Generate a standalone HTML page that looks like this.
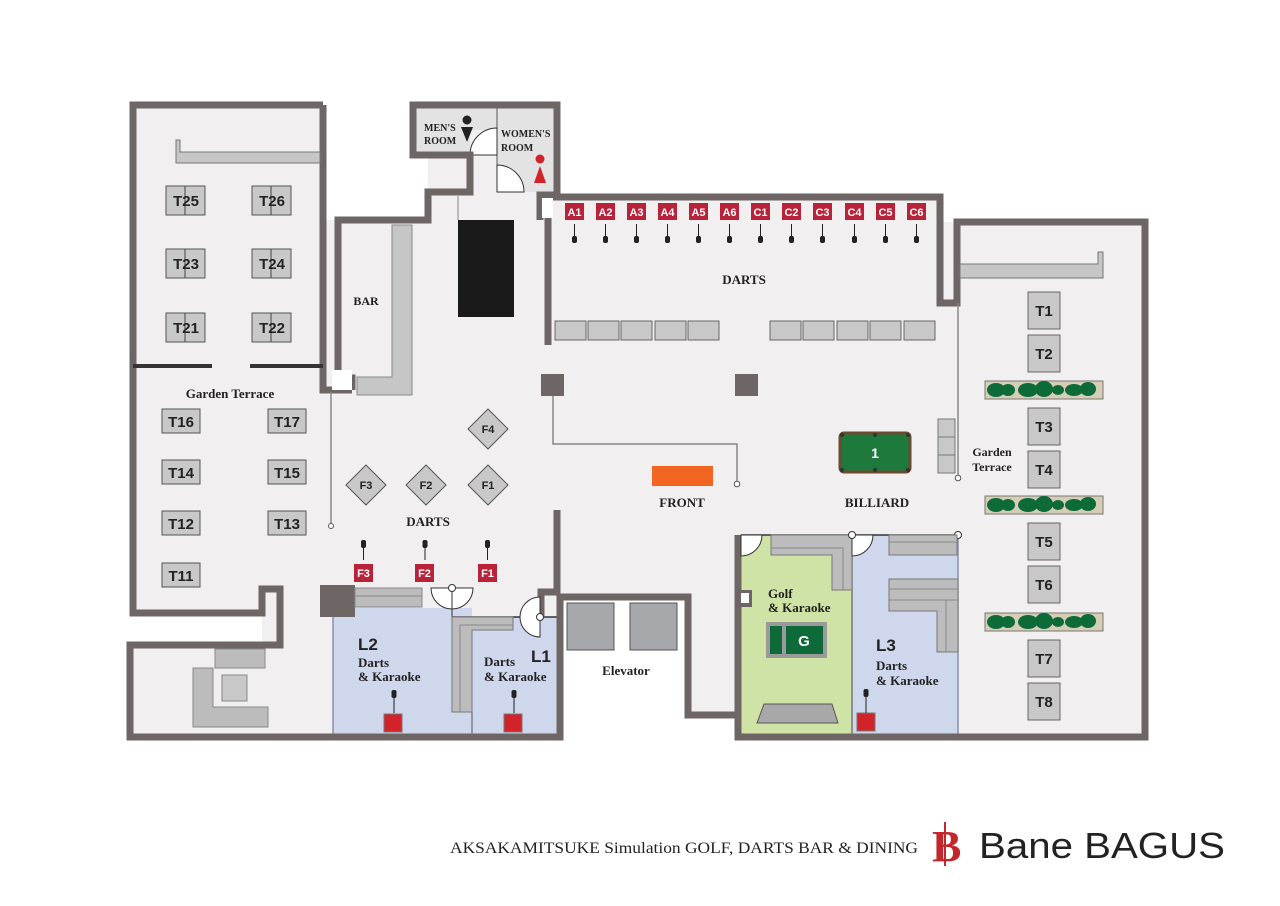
<!DOCTYPE html>
<html><head><meta charset="utf-8"><style>
html,body{margin:0;padding:0;background:#fff}
svg{display:block}
.sans{font-family:"Liberation Sans","DejaVu Sans",sans-serif}
.s{font-family:"Liberation Serif",serif;font-weight:bold;fill:#222}
.t{font-family:"Liberation Sans",sans-serif;font-weight:bold;fill:#222;font-size:15px}
.w{font-family:"Liberation Sans",sans-serif;fill:#fff;font-weight:bold;font-size:11px}
</style></head><body>
<svg width="1280" height="906" viewBox="0 0 1280 906" xmlns="http://www.w3.org/2000/svg">
<rect width="1280" height="906" fill="#fff"/>
<!-- floors -->
<g fill="#f1eff0">
<rect x="133" y="105" width="190" height="508"/>
<rect x="130" y="645" width="205" height="92"/>
<rect x="262" y="589" width="18" height="56"/>
<rect x="280" y="589" width="53" height="60"/>
<rect x="323" y="220" width="234" height="517"/>
<rect x="428" y="155" width="70" height="70"/>
<rect x="428" y="190" width="120" height="32"/>
<rect x="548" y="197" width="392" height="400"/>
<rect x="557" y="300" width="400" height="235"/>
<rect x="688" y="530" width="50" height="185"/>
<rect x="940" y="222" width="205" height="515"/>
</g>
<rect x="562" y="597" width="126" height="140" fill="#fff"/>
<!-- restrooms -->
<rect x="413" y="105" width="144" height="50" fill="#e3e3e3"/>
<rect x="497" y="105" width="60" height="87" fill="#e3e3e3"/>
<rect x="470" y="130" width="27" height="62" fill="#f1eff0"/>
<line x1="497" y1="105" x2="497" y2="192" stroke="#555" stroke-width="1"/>
<path d="M470,155 A27,27 0 0 1 497,128 V155Z" fill="#fff" stroke="#333" stroke-width="1"/>
<path d="M497,165 A27,27 0 0 1 524,192 H497Z" fill="#fff" stroke="#333" stroke-width="1"/>
<text x="424" y="131" class="s" font-size="10">MEN'S</text>
<text x="424" y="144" class="s" font-size="10">ROOM</text>
<circle cx="467" cy="120" r="4.5" fill="#222"/><path d="M461,127 H473 L467,142Z" fill="#222"/>
<text x="501" y="137" class="s" font-size="10">WOMEN'S</text>
<text x="501" y="151" class="s" font-size="10">ROOM</text>
<circle cx="540" cy="159" r="4.5" fill="#d2232a"/><path d="M540,166 L546,183 H534Z" fill="#d2232a"/>
<!-- colored rooms -->
<rect x="333" y="608" width="139" height="126" fill="#cfd7ec"/>
<rect x="472" y="617" width="85" height="117" fill="#cfd7ec"/>
<rect x="741" y="535" width="111" height="199" fill="#cfe3a6"/>
<rect x="852" y="535" width="106" height="199" fill="#cfd7ec"/>
<line x1="852" y1="535" x2="852" y2="734" stroke="#777" stroke-width="1.5"/>
<line x1="958" y1="535" x2="958" y2="734" stroke="#8a8fa8" stroke-width="1.5"/>
<line x1="741" y1="535" x2="958" y2="535" stroke="#333" stroke-width="1.5"/>
<line x1="333" y1="617" x2="333" y2="734" stroke="#8a8fa8" stroke-width="1.5"/>
<line x1="472" y1="617" x2="472" y2="734" stroke="#555" stroke-width="1"/>
<line x1="452" y1="617" x2="557" y2="617" stroke="#333" stroke-width="1.5"/>
<!-- walls -->
<g fill="none" stroke="#6d6665" stroke-width="7" stroke-linejoin="miter">
<path d="M323,105 H133 V613 H262 V589 H280 V645 H130 V737 H560 V597 H688 V715 H738"/>
<path d="M323,105 V390 H352"/>
<path d="M352,390 V378 H338 V220 H428 V192 H470 V155 H413 V105 H557 V195 H540 V220"/>
<path d="M545,197 H940 V303 H957 V222 H1145 V737 H738 V535"/>
<path d="M548,197 V345"/>
<path d="M557,510 V592 H541 V617"/>
</g>
<rect x="542" y="198" width="11" height="20" fill="#fff"/>
<rect x="332" y="370" width="20" height="20" fill="#fff"/>
<rect x="738" y="590" width="14" height="17" fill="#6d6665"/><rect x="741" y="593" width="8" height="10" fill="#fff"/>
<!-- terrace left -->
<path d="M176,140 H180 V152 H320 V163 H176Z" fill="#c6c6c6" stroke="#777"/>
<g stroke="#333" stroke-width="4"><line x1="133" y1="366" x2="212" y2="366"/><line x1="250" y1="366" x2="323" y2="366"/></g>
<g fill="#c8c8c8" stroke="#555" stroke-width="1">
<rect x="166" y="186" width="39" height="29"/><rect x="252" y="186" width="39" height="29"/>
<rect x="166" y="249" width="39" height="29"/><rect x="252" y="249" width="39" height="29"/>
<rect x="166" y="313" width="39" height="29"/><rect x="252" y="313" width="39" height="29"/>
<rect x="162" y="409" width="38" height="24"/><rect x="268" y="409" width="38" height="24"/>
<rect x="162" y="460" width="38" height="24"/><rect x="268" y="460" width="38" height="24"/>
<rect x="162" y="511" width="38" height="24"/><rect x="268" y="511" width="38" height="24"/>
<rect x="162" y="563" width="38" height="24"/>
</g>
<g stroke="#444" stroke-width="1"><line x1="185" y1="186" x2="185" y2="215"/><line x1="271" y1="186" x2="271" y2="215"/><line x1="185" y1="249" x2="185" y2="278"/><line x1="271" y1="249" x2="271" y2="278"/><line x1="185" y1="313" x2="185" y2="342"/><line x1="271" y1="313" x2="271" y2="342"/></g>
<g class="t" text-anchor="middle">
<text x="186" y="206">T25</text><text x="272" y="206">T26</text>
<text x="186" y="269">T23</text><text x="272" y="269">T24</text>
<text x="186" y="333">T21</text><text x="272" y="333">T22</text>
<text x="181" y="427">T16</text><text x="287" y="427">T17</text>
<text x="181" y="478">T14</text><text x="287" y="478">T15</text>
<text x="181" y="529">T12</text><text x="287" y="529">T13</text>
<text x="181" y="581">T11</text>
</g>
<text x="230" y="398" class="s" font-size="13" text-anchor="middle">Garden Terrace</text>
<line x1="331" y1="392" x2="331" y2="524" stroke="#888" stroke-width="1.5"/><circle cx="331" cy="526" r="2.5" fill="#fff" stroke="#555"/>
<!-- bottom-left room furniture -->
<g fill="#bcbcbc" stroke="#888"><rect x="215" y="649" width="50" height="19"/><path d="M193,668 H213 V707 H268 V727 H193Z"/><rect x="222" y="675" width="25" height="26" fill="#c8c8c8"/></g>
<!-- bar -->
<path d="M392,225 H412 V395 H357 V377 H392Z" fill="#c6c6c6" stroke="#888"/>
<text x="366" y="305" class="s" font-size="12" text-anchor="middle">BAR</text>
<rect x="458" y="220" width="56" height="97" fill="#1a1a1a"/>
<line x1="458" y1="196" x2="458" y2="220" stroke="#888"/>
<!-- darts top -->
<g font-size="11">
<g fill="#b8233a">
<rect x="565" y="203" width="19" height="17"/><rect x="596" y="203" width="19" height="17"/><rect x="627" y="203" width="19" height="17"/><rect x="658" y="203" width="19" height="17"/><rect x="689" y="203" width="19" height="17"/><rect x="720" y="203" width="19" height="17"/><rect x="751" y="203" width="19" height="17"/><rect x="782" y="203" width="19" height="17"/><rect x="813" y="203" width="19" height="17"/><rect x="845" y="203" width="19" height="17"/><rect x="876" y="203" width="19" height="17"/><rect x="907" y="203" width="19" height="17"/>
</g>
<g class="w" text-anchor="middle">
<text x="574.5" y="216">A1</text><text x="605.5" y="216">A2</text><text x="636.5" y="216">A3</text><text x="667.5" y="216">A4</text><text x="698.5" y="216">A5</text><text x="729.5" y="216">A6</text><text x="760.5" y="216">C1</text><text x="791.5" y="216">C2</text><text x="822.5" y="216">C3</text><text x="854.5" y="216">C4</text><text x="885.5" y="216">C5</text><text x="916.5" y="216">C6</text>
</g>
<g stroke="#222" stroke-width="1">
<line x1="574.5" y1="224" x2="574.5" y2="238"/><line x1="605.5" y1="224" x2="605.5" y2="238"/><line x1="636.5" y1="224" x2="636.5" y2="238"/><line x1="667.5" y1="224" x2="667.5" y2="238"/><line x1="698.5" y1="224" x2="698.5" y2="238"/><line x1="729.5" y1="224" x2="729.5" y2="238"/><line x1="760.5" y1="224" x2="760.5" y2="238"/><line x1="791.5" y1="224" x2="791.5" y2="238"/><line x1="822.5" y1="224" x2="822.5" y2="238"/><line x1="854.5" y1="224" x2="854.5" y2="238"/><line x1="885.5" y1="224" x2="885.5" y2="238"/><line x1="916.5" y1="224" x2="916.5" y2="238"/>
</g>
<g fill="#222">
<rect x="572" y="236" width="5" height="7" rx="2"/><rect x="603" y="236" width="5" height="7" rx="2"/><rect x="634" y="236" width="5" height="7" rx="2"/><rect x="665" y="236" width="5" height="7" rx="2"/><rect x="696" y="236" width="5" height="7" rx="2"/><rect x="727" y="236" width="5" height="7" rx="2"/><rect x="758" y="236" width="5" height="7" rx="2"/><rect x="789" y="236" width="5" height="7" rx="2"/><rect x="820" y="236" width="5" height="7" rx="2"/><rect x="852" y="236" width="5" height="7" rx="2"/><rect x="883" y="236" width="5" height="7" rx="2"/><rect x="914" y="236" width="5" height="7" rx="2"/>
</g>
</g>
<text x="744" y="284" class="s" font-size="13" text-anchor="middle">DARTS</text>
<g fill="#c8c8c8" stroke="#666">
<rect x="555" y="321" width="31" height="19"/><rect x="588" y="321" width="31" height="19"/><rect x="621" y="321" width="31" height="19"/><rect x="655" y="321" width="31" height="19"/><rect x="688" y="321" width="31" height="19"/>
<rect x="770" y="321" width="31" height="19"/><rect x="803" y="321" width="31" height="19"/><rect x="837" y="321" width="31" height="19"/><rect x="870" y="321" width="31" height="19"/><rect x="904" y="321" width="31" height="19"/>
</g>
<rect x="541" y="374" width="23" height="22" fill="#6d6665"/><rect x="735" y="374" width="23" height="22" fill="#6d6665"/>
<path d="M553,396 V444 H737 V482" fill="none" stroke="#888" stroke-width="1.5"/><circle cx="737" cy="484" r="2.8" fill="#fff" stroke="#555"/>
<rect x="652" y="466" width="61" height="20" fill="#f26522"/>
<text x="682" y="507" class="s" font-size="13" text-anchor="middle">FRONT</text>
<!-- diamonds -->
<g fill="#c8c8c8" stroke="#555">
<path d="M488,409 L508,429 L488,449 L468,429Z"/><path d="M366,465 L386,485 L366,505 L346,485Z"/><path d="M426,465 L446,485 L426,505 L406,485Z"/><path d="M488,465 L508,485 L488,505 L468,485Z"/>
</g>
<g class="sans" font-size="11" font-weight="bold" fill="#222" text-anchor="middle"><text x="488" y="433">F4</text><text x="366" y="489">F3</text><text x="426" y="489">F2</text><text x="488" y="489">F1</text></g>
<text x="428" y="526" class="s" font-size="13" text-anchor="middle">DARTS</text>
<g fill="#b8233a"><rect x="354" y="564" width="19" height="18"/><rect x="415" y="564" width="19" height="18"/><rect x="478" y="564" width="19" height="18"/></g>
<g class="w" text-anchor="middle"><text x="363.5" y="577">F3</text><text x="424.5" y="577">F2</text><text x="487.5" y="577">F1</text></g>
<g stroke="#222"><line x1="363.5" y1="546" x2="363.5" y2="560"/><line x1="425" y1="546" x2="425" y2="560"/><line x1="487.5" y1="546" x2="487.5" y2="560"/></g>
<g fill="#222"><rect x="361" y="540" width="5" height="8" rx="2"/><rect x="422.5" y="540" width="5" height="8" rx="2"/><rect x="485" y="540" width="5" height="8" rx="2"/></g>
<!-- L2/L1 -->
<rect x="320" y="585" width="35" height="32" fill="#6d6665"/>
<rect x="355" y="588" width="67" height="19" fill="#bcbcbc" stroke="#888"/><line x1="355" y1="596" x2="422" y2="596" stroke="#888"/>
<path d="M431,588 A21,21 0 0 0 473,588Z" fill="#fff" stroke="#333"/>
<line x1="452" y1="588" x2="452" y2="617" stroke="#333"/><circle cx="452" cy="588" r="3.5" fill="#fff" stroke="#333"/>
<path d="M452,617 H513 V630 H472 V712 H452Z" fill="#bcbcbc" stroke="#777"/><path d="M460,625 H513 M460,625 V712" fill="none" stroke="#888"/>
<path d="M540,597 A20,20 0 0 0 540,637Z" fill="#fff" stroke="#333"/><circle cx="540" cy="617" r="3.5" fill="#fff" stroke="#333"/>
<text x="358" y="650" class="sans" font-size="17" font-weight="bold" fill="#222">L2</text>
<text x="358" y="667" class="s" font-size="13">Darts</text><text x="358" y="681" class="s" font-size="13">&amp; Karaoke</text>
<text x="531" y="662" class="sans" font-size="17" font-weight="bold" fill="#222">L1</text>
<text x="484" y="666" class="s" font-size="13">Darts</text><text x="484" y="681" class="s" font-size="13">&amp; Karaoke</text>
<g fill="#d2232a" stroke="#777"><rect x="384" y="714" width="18" height="18"/><rect x="504" y="714" width="18" height="18"/></g>
<g stroke="#222"><line x1="394" y1="694" x2="394" y2="713"/><line x1="514" y1="694" x2="514" y2="713"/></g>
<g fill="#222"><rect x="391.5" y="690" width="5" height="8" rx="2"/><rect x="511.5" y="690" width="5" height="8" rx="2"/></g>
<!-- elevator -->
<g fill="#a6a8ab" stroke="#555"><rect x="567" y="603" width="47" height="47"/><rect x="630" y="603" width="47" height="47"/></g>
<text x="626" y="675" class="s" font-size="13" text-anchor="middle">Elevator</text>
<!-- billiard -->
<rect x="840" y="433" width="70" height="39" rx="4" fill="#1d7a3c" stroke="#6b4a2f" stroke-width="3"/>
<g fill="#333"><circle cx="842" cy="435" r="2"/><circle cx="875" cy="435" r="2"/><circle cx="908" cy="435" r="2"/><circle cx="842" cy="470" r="2"/><circle cx="875" cy="470" r="2"/><circle cx="908" cy="470" r="2"/></g>
<text x="875" y="458" class="sans" fill="#fff" font-size="14" font-weight="bold" text-anchor="middle">1</text>
<text x="877" y="507" class="s" font-size="13" text-anchor="middle">BILLIARD</text>
<!-- golf -->
<path d="M741,535 H762 A21,21 0 0 1 741,556Z" fill="#fff" stroke="#333"/>
<path d="M771,535 H852 V590 H832 V555 H771Z" fill="#bcbcbc" stroke="#777"/><path d="M771,548 H843 V590" fill="none" stroke="#888"/>
<text x="768" y="598" class="s" font-size="13">Golf</text><text x="768" y="612" class="s" font-size="13">&amp; Karaoke</text>
<rect x="766" y="622" width="61" height="36" fill="#9a9a9a"/>
<rect x="770" y="626" width="12" height="28" fill="#0f6a3a"/><rect x="786" y="626" width="37" height="28" fill="#0f6a3a"/>
<text x="804" y="646" class="sans" fill="#fff" font-size="15" font-weight="bold" text-anchor="middle">G</text>
<path d="M764,704 H832 L838,723 H757Z" fill="#a8a8a8" stroke="#555"/>
<!-- L3 -->
<path d="M852,535 H873 A21,21 0 0 1 852,556Z" fill="#fff" stroke="#333"/>
<circle cx="852" cy="535" r="3.5" fill="#fff" stroke="#333"/><circle cx="958" cy="535" r="3.5" fill="#fff" stroke="#333"/>
<rect x="889" y="535" width="68" height="20" fill="#bcbcbc" stroke="#777"/><line x1="889" y1="542" x2="957" y2="542" stroke="#888"/>
<path d="M889,579 H958 V652 H937 V611 H889Z" fill="#bcbcbc" stroke="#777"/><path d="M889,589 H958 M889,600 H958 M946,600 V652" fill="none" stroke="#888"/>
<text x="876" y="651" class="sans" font-size="17" font-weight="bold" fill="#222">L3</text>
<text x="876" y="670" class="s" font-size="13">Darts</text><text x="876" y="685" class="s" font-size="13">&amp; Karaoke</text>
<rect x="857" y="713" width="18" height="18" fill="#d2232a" stroke="#777"/>
<line x1="866" y1="694" x2="866" y2="713" stroke="#222"/><rect x="863.5" y="689" width="5" height="8" rx="2" fill="#222"/>
<!-- right terrace -->
<path d="M960,264 H1098 V252 H1103 V278 H960Z" fill="#c6c6c6" stroke="#777"/>
<line x1="958" y1="303" x2="958" y2="476" stroke="#888" stroke-width="1.5"/><circle cx="958" cy="478" r="2.8" fill="#fff" stroke="#555"/>
<g fill="#c8c8c8" stroke="#777"><rect x="938" y="419" width="17" height="18"/><rect x="938" y="437" width="17" height="18"/><rect x="938" y="455" width="17" height="18"/></g>
<text x="992" y="456" class="s" font-size="12" text-anchor="middle">Garden</text><text x="992" y="471" class="s" font-size="12" text-anchor="middle">Terrace</text>
<g fill="#c8c8c8" stroke="#666">
<rect x="1028" y="292" width="32" height="37"/><rect x="1028" y="335" width="32" height="37"/>
<rect x="1028" y="408" width="32" height="37"/><rect x="1028" y="451" width="32" height="37"/>
<rect x="1028" y="523" width="32" height="37"/><rect x="1028" y="566" width="32" height="37"/>
<rect x="1028" y="640" width="32" height="37"/><rect x="1028" y="683" width="32" height="37"/>
</g>
<g class="t" text-anchor="middle">
<text x="1044" y="316">T1</text><text x="1044" y="359">T2</text><text x="1044" y="432">T3</text><text x="1044" y="475">T4</text>
<text x="1044" y="547">T5</text><text x="1044" y="590">T6</text><text x="1044" y="664">T7</text><text x="1044" y="707">T8</text>
</g>
<g>
<rect x="985" y="381" width="118" height="18" fill="#d6cdb5" stroke="#777"/>
<rect x="985" y="496" width="118" height="18" fill="#d6cdb5" stroke="#777"/>
<rect x="985" y="613" width="118" height="18" fill="#d6cdb5" stroke="#777"/>
<g fill="#0d6b3a">
<g id="pl"><ellipse cx="996" cy="390" rx="9" ry="7"/><ellipse cx="1008" cy="390" rx="7" ry="6"/><ellipse cx="1028" cy="390" rx="10" ry="7"/><ellipse cx="1044" cy="389" rx="9" ry="8"/><ellipse cx="1058" cy="390" rx="6" ry="5"/><ellipse cx="1074" cy="390" rx="9" ry="6"/><ellipse cx="1088" cy="389" rx="8" ry="7"/></g>
<use href="#pl" y="115"/><use href="#pl" y="232"/>
</g>
</g>
<!-- footer -->
<text x="450" y="853" style="font-family:'Liberation Serif',serif" font-size="16" fill="#222" textLength="468" lengthAdjust="spacingAndGlyphs">AKSAKAMITSUKE  Simulation GOLF, DARTS BAR &amp; DINING</text>
<text x="932" y="861" style="font-family:'Liberation Serif',serif" font-size="44" font-weight="bold" fill="#c1272d">B</text>
<line x1="945" y1="822" x2="945" y2="866" stroke="#c1272d" stroke-width="2"/>
<text x="979" y="858" style="font-family:'Liberation Sans',sans-serif" font-size="36" fill="#222" textLength="246" lengthAdjust="spacingAndGlyphs">Bane BAGUS</text>
</svg>
</body></html>
